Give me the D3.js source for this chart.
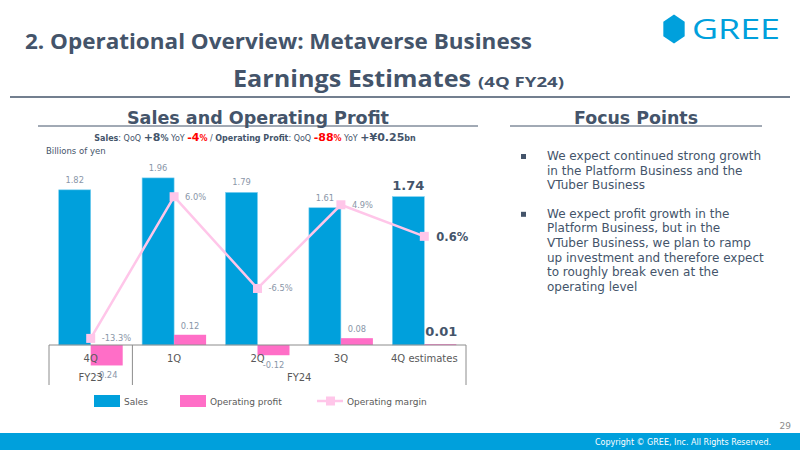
<!DOCTYPE html>
<html><head><meta charset="utf-8">
<script src="https://cdn.jsdelivr.net/npm/d3@7"></script>
<style>
html,body{margin:0;padding:0;background:#fff;}
svg{display:block;}
</style></head>
<body>
<script>
const categories = ["4Q", "1Q", "2Q", "3Q", "4Q estimates"];
const fiscalGroups = [{label: "FY23", from: 0, to: 0}, {label: "FY24", from: 1, to: 4}];
const sales = [1.82, 1.96, 1.79, 1.61, 1.74];
const operatingProfit = [-0.24, 0.12, -0.12, 0.08, 0.01];
const operatingMargin = [-13.3, 6.0, -6.5, 4.9, 0.6];
const salesLabels = ["1.82", "1.96", "1.79", "1.61", "1.74"];
const profitLabels = ["-0.24", "0.12", "-0.12", "0.08", "0.01"];
const marginLabels = ["-13.3%", "6.0%", "-6.5%", "4.9%", "0.6%"];
const legendItems = ["Sales", "Operating profit", "Operating margin"];
const bullets = [
  ["We expect continued strong growth", "in the Platform Business and the", "VTuber Business"],
  ["We expect profit growth in the", "Platform Business, but in the", "VTuber Business, we plan to ramp", "up investment and therefore expect", "to roughly break even at the", "operating level"]
];

const C_SALES = "#00A0DC", C_PROFIT = "#FF6EC7", C_MARGIN = "#FFC6E9";
const C_TITLE = "#44546A", C_LABEL = "#8A96A8", C_AXIS = "#595959";
const FONT = "'DejaVu Sans', Verdana, sans-serif";
const HFONT = "'Open Sans', 'DejaVu Sans', sans-serif";

const svg = d3.select("body").append("svg").attr("width", 800).attr("height", 450)
  .style("font-family", FONT);

// Header
svg.append("text").attr("x", 25).attr("y", 49).attr("font-family", HFONT).attr("font-weight", 700)
  .attr("font-size", 22).attr("fill", C_TITLE).attr("textLength", 507).attr("lengthAdjust", "spacingAndGlyphs")
  .text("2. Operational Overview: Metaverse Business");

// Logo
const hx = 674, hy = 29, hr = 14.5;
const hex = d3.range(6).map(i => { const a = Math.PI / 180 * (60 * i - 90); return [hx + hr * 0.85 * Math.cos(a), hy + hr * Math.sin(a)]; });
svg.append("path").attr("d", d3.line()(hex) + "Z").attr("fill", "#00A0DC");
svg.append("text").attr("x", 692).attr("y", 39).attr("font-family", "'Open Sans', sans-serif").attr("font-weight", 500)
  .attr("font-size", 27).attr("fill", "#00A0DC").attr("textLength", 88).attr("lengthAdjust", "spacingAndGlyphs").text("GREE");

// Earnings Estimates
svg.append("text").attr("x", 233).attr("y", 87).attr("font-family", HFONT).attr("font-weight", 700)
  .attr("font-size", 23).attr("fill", C_TITLE).attr("textLength", 238).attr("lengthAdjust", "spacingAndGlyphs").text("Earnings Estimates");
svg.append("text").attr("x", 478).attr("y", 87).attr("font-family", HFONT).attr("font-weight", 700)
  .attr("font-size", 15).attr("fill", C_TITLE).attr("textLength", 86).attr("lengthAdjust", "spacingAndGlyphs").text("(4Q FY24)");
svg.append("line").attr("x1", 10).attr("x2", 790).attr("y1", 97).attr("y2", 97).attr("stroke", C_TITLE).attr("stroke-width", 1.3);

// Section titles
svg.append("text").attr("x", 258).attr("y", 124).attr("text-anchor", "middle").attr("font-weight", 700)
  .attr("font-size", 17).attr("fill", C_TITLE).attr("textLength", 262).attr("lengthAdjust", "spacingAndGlyphs").text("Sales and Operating Profit");
svg.append("line").attr("x1", 38).attr("x2", 478).attr("y1", 126).attr("y2", 126).attr("stroke", C_TITLE).attr("stroke-width", 1);
svg.append("text").attr("x", 636).attr("y", 124).attr("text-anchor", "middle").attr("font-weight", 700)
  .attr("font-size", 17).attr("fill", C_TITLE).attr("textLength", 124).attr("lengthAdjust", "spacingAndGlyphs").text("Focus Points");
svg.append("line").attr("x1", 510).attr("x2", 762).attr("y1", 126).attr("y2", 126).attr("stroke", C_TITLE).attr("stroke-width", 1);

// Subtitle
const parts = [
  ["Sales", 8, 700, C_TITLE], [": QoQ ", 8, 400, C_TITLE], ["+8", 11, 700, C_TITLE], ["%", 8, 700, C_TITLE],
  [" YoY ", 8, 400, C_TITLE], ["-4", 11, 700, "#FF0000"], ["%", 8, 700, "#FF0000"], [" / ", 8, 400, C_TITLE],
  ["Operating Profit", 8, 700, C_TITLE], [": QoQ ", 8, 400, C_TITLE], ["-88", 11, 700, "#FF0000"], ["%", 8, 700, "#FF0000"],
  [" YoY ", 8, 400, C_TITLE], ["+¥0.25", 11, 700, C_TITLE], ["bn", 8, 700, C_TITLE]
];
const st = svg.append("text").attr("x", 255).attr("y", 141).attr("text-anchor", "middle");
parts.forEach(p => st.append("tspan").attr("font-size", p[1]).attr("font-weight", p[2]).attr("fill", p[3]).text(p[0]));
svg.append("text").attr("x", 46).attr("y", 154).attr("font-size", 8.5).attr("fill", C_TITLE).text("Billions of yen");

// Scales
const baseY = 345;
const x = d3.scaleBand().domain(categories).range([49, 466]).padding(0);
const y = d3.scaleLinear().domain([0, 2.17]).range([baseY, 160]);
const y2 = d3.scaleLinear().domain([-14.2, 11]).range([baseY, 160]);
const bw = 32;
const off = (x.bandwidth() - 2 * bw) / 2;

const g = svg.append("g");
// Sales bars
g.selectAll(".s").data(sales).join("rect")
  .attr("x", (d, i) => x(categories[i]) + off).attr("width", bw)
  .attr("y", d => y(d)).attr("height", d => y(0) - y(d)).attr("fill", C_SALES)
  .attr("stroke", "#7FD0F0").attr("stroke-width", 0.6);
// Profit bars
g.selectAll(".p").data(operatingProfit).join("rect")
  .attr("x", (d, i) => x(categories[i]) + off + bw).attr("width", bw)
  .attr("y", d => y(Math.max(0, d))).attr("height", d => Math.max(1, Math.abs(y(d) - y(0)))).attr("fill", C_PROFIT);

// Sales labels
sales.forEach((d, i) => {
  const last = i === sales.length - 1;
  g.append("text").attr("x", x(categories[i]) + off + bw / 2).attr("y", y(d) - 7)
    .attr("text-anchor", "middle").attr("font-size", last ? 13 : 8.3).attr("font-weight", last ? 700 : 400)
    .attr("fill", last ? C_TITLE : C_LABEL).text(salesLabels[i]);
});
// Profit labels
operatingProfit.forEach((d, i) => {
  const last = i === operatingProfit.length - 1;
  const cx = x(categories[i]) + off + bw * 1.5;
  const ty = d >= 0 ? y(d) - (last ? 8 : 6) : y(d) + 13;
  g.append("text").attr("x", last ? cx + 1 : cx).attr("y", ty).attr("text-anchor", "middle")
    .attr("font-size", last ? 13 : 8.3).attr("font-weight", last ? 700 : 400)
    .attr("fill", last ? C_TITLE : C_LABEL).text(profitLabels[i]);
});

// Axis box
const ax = svg.append("g").attr("stroke", "#8C8C8C").attr("stroke-width", 1);
ax.append("line").attr("x1", 49).attr("x2", 466).attr("y1", baseY).attr("y2", baseY);
[49, x(categories[1]), 466].forEach(v => ax.append("line").attr("x1", v).attr("x2", v).attr("y1", baseY).attr("y2", 385));
categories.forEach(c => svg.append("text").attr("x", x(c) + x.bandwidth() / 2).attr("y", 362)
  .attr("text-anchor", "middle").attr("font-size", 10).attr("fill", C_AXIS).text(c));
fiscalGroups.forEach(f => {
  const x0 = x(categories[f.from]), x1 = x(categories[f.to]) + x.bandwidth();
  svg.append("text").attr("x", (x0 + x1) / 2).attr("y", 381).attr("text-anchor", "middle")
    .attr("font-size", 10).attr("fill", C_AXIS).text(f.label);
});

// Margin line
const cxm = i => x(categories[i]) + x.bandwidth() / 2;
svg.append("path").datum(operatingMargin)
  .attr("d", d3.line().x((d, i) => cxm(i)).y(d => y2(d)))
  .attr("fill", "none").attr("stroke", C_MARGIN).attr("stroke-width", 2.5);
svg.selectAll(".m").data(operatingMargin).join("rect")
  .attr("x", (d, i) => cxm(i) - 4.5).attr("y", d => y2(d) - 4.5).attr("width", 9).attr("height", 9).attr("fill", C_MARGIN);
operatingMargin.forEach((d, i) => {
  const last = i === operatingMargin.length - 1;
  svg.append("text").attr("x", cxm(i) + (last ? 12 : 11)).attr("y", y2(d) + (last ? 5 : 3))
    .attr("font-size", last ? 11.5 : 8.3).attr("font-weight", last ? 700 : 400)
    .attr("fill", last ? C_TITLE : C_LABEL).text(marginLabels[i]);
});

// Legend
const lg = svg.append("g");
const lx = [94, 180, 317];
lg.append("rect").attr("x", lx[0]).attr("y", 395).attr("width", 26).attr("height", 12).attr("fill", C_SALES);
lg.append("rect").attr("x", lx[1]).attr("y", 395).attr("width", 26).attr("height", 12).attr("fill", C_PROFIT);
lg.append("line").attr("x1", lx[2]).attr("x2", lx[2] + 26).attr("y1", 401).attr("y2", 401).attr("stroke", C_MARGIN).attr("stroke-width", 2.5);
lg.append("rect").attr("x", lx[2] + 9).attr("y", 396.5).attr("width", 9).attr("height", 9).attr("fill", C_MARGIN);
legendItems.forEach((t, i) => lg.append("text").attr("x", lx[i] + 30).attr("y", 404.5).attr("font-size", 9).attr("fill", C_AXIS).text(t));

// Bullets
let by = 160;
bullets.forEach(b => {
  svg.append("rect").attr("x", 521).attr("y", by - 6).attr("width", 5).attr("height", 5).attr("fill", C_TITLE);
  b.forEach((line, j) => {
    svg.append("text").attr("x", 547).attr("y", by + j * 14.6).attr("font-size", 12).attr("fill", C_TITLE).text(line);
  });
  by += b.length * 14.6 + 14;
});

// Footer
svg.append("text").attr("x", 791).attr("y", 429).attr("text-anchor", "end").attr("font-size", 9).attr("fill", "#8C8C8C").text("29");
svg.append("rect").attr("x", 0).attr("y", 433).attr("width", 800).attr("height", 17).attr("fill", "#00A0DC");
svg.append("text").attr("x", 771).attr("y", 445).attr("text-anchor", "end").attr("font-size", 8).attr("fill", "#fff")
  .text("Copyright © GREE, Inc. All Rights Reserved.");
</script>
</body></html>
